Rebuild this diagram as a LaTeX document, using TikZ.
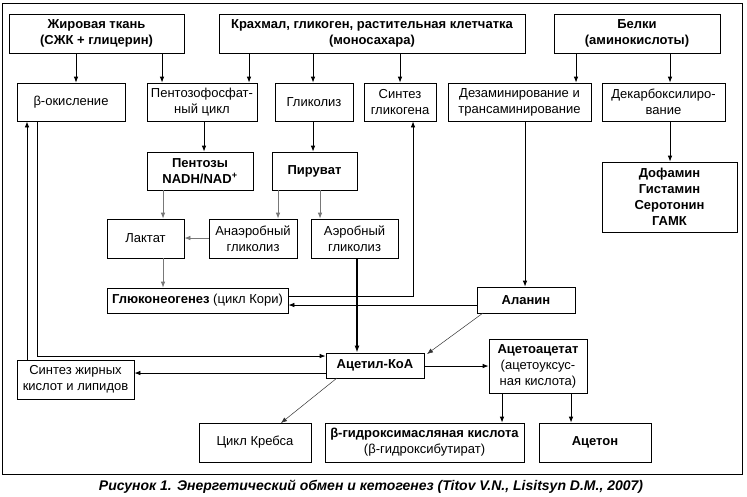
\documentclass[tikz,border=0pt]{standalone}
\usepackage{fontspec}
\setmainfont{Liberation Sans}
\usetikzlibrary{arrows.meta}
\definecolor{arrgray}{RGB}{120,120,120}
\begin{document}
\begin{tikzpicture}[x=1pt,y=-1pt,
  font=\fontsize{13}{16}\selectfont,
  bx/.style={draw, line width=0.8pt, align=center, inner sep=1pt, minimum width=#1},
  arr/.style={-{Latex[length=6pt,width=4.6pt]}, line width=0.8pt},
  garr/.style={-{Latex[length=6pt,width=4.6pt]}, line width=0.8pt, draw=arrgray, color=arrgray},
  tarr/.style={-{Latex[length=6pt,width=4.6pt]}, line width=0.5pt, draw=black!80},
  karr/.style={-{Latex[length=7pt,width=5pt]}, line width=1.8pt}
]
\useasboundingbox (0,0) rectangle (747,496);
\draw[line width=0.9pt] (2,3) rectangle (742,474);

% top row
\node[bx=175pt, minimum height=39pt] (fat) at (96.5,33.5) {\textbf{Жировая ткань}\\\textbf{(СЖК + глицерин)}};
\node[bx=306pt, minimum height=39pt] (starch) at (372,33.5) {\textbf{Крахмал, гликоген, растительная клетчатка}\\\textbf{(моносахара)}};
\node[bx=166pt, minimum height=39pt] (prot) at (637,33.5) {\textbf{Белки}\\\textbf{(аминокислоты)}};

% row 2
\node[bx=108pt, minimum height=38pt] (beta) at (71,102) {β-окисление};
\node[bx=110pt, minimum height=38pt] (ppc) at (202,102) {Пентозофосфат-\\ный цикл};
\node[bx=78pt, minimum height=38pt] (glyc) at (314,102) {Гликолиз};
\node[bx=72pt, minimum height=38pt] (glsyn) at (400,102) {Синтез\\гликогена};
\node[bx=143pt, minimum height=38pt] (deam) at (519.5,102) {Дезаминирование и\\трансаминирование};
\node[bx=123pt, minimum height=38pt] (decarb) at (663.5,102) {Декарбоксилиро-\\вание};

% row 3
\node[bx=106pt, minimum height=38pt] (pent) at (200,171) {\textbf{Пентозы}\\\textbf{NADH/NAD\textsuperscript{+}}};
\node[bx=85pt, minimum height=38pt] (pyr) at (314.5,171) {\textbf{Пируват}};
\node[bx=135pt, minimum height=70pt] (dopa) at (669.5,197) {\textbf{Дофамин}\\\textbf{Гистамин}\\\textbf{Серотонин}\\\textbf{ГАМК}};

% row 4
\node[bx=77pt, minimum height=39pt] (lact) at (145.5,238.5) {Лактат};
\node[bx=88pt, minimum height=39pt] (anaer) at (253,238.5) {Анаэробный\\гликолиз};
\node[bx=87pt, minimum height=39pt] (aer) at (354.5,238.5) {Аэробный\\гликолиз};

% row 5
\node[bx=181pt, minimum height=25pt] (gng) at (197.5,300.5) {\textbf{Глюконеогенез} (цикл Кори)};
\node[bx=98pt, minimum height=26pt] (ala) at (526,300) {\textbf{Аланин}};

% row 6
\node[bx=98pt, minimum height=25pt] (acoa) at (375,365.5) {\textbf{Ацетил-КоА}};
\node[bx=98pt, minimum height=54pt] (acac) at (538,366) {\textbf{Ацетоацетат}\\(ацетоуксус-\\ная кислота)};
\node[bx=117pt, minimum height=39pt] (fas) at (75.5,379.5) {Синтез жирных\\кислот и липидов};

% bottom row
\node[bx=112pt, minimum height=39pt] (krebs) at (255,442.5) {Цикл Кребса};
\node[bx=199pt, minimum height=39pt] (bhb) at (424.5,442.5) {\textbf{β-гидроксимасляная кислота}\\(β-гидроксибутират)};
\node[bx=112pt, minimum height=39pt] (aceton) at (595,442.5) {\textbf{Ацетон}};

% caption
\node (cap) at (371,487) {\fontsize{14}{16}\selectfont\bfseries\itshape Рисунок 1. Энергетический обмен и кетогенез (Titov V.N., Lisitsyn D.M., 2007)};

% helper x/y positions
\coordinate (x76) at (76,0);
\coordinate (x162) at (162,0);
\coordinate (x249) at (249,0);
\coordinate (x313) at (313,0);
\coordinate (x400) at (400,0);
\coordinate (x576) at (576,0);
\coordinate (x670) at (670,0);
\coordinate (x204) at (204,0);
\coordinate (x163) at (163,0);
\coordinate (x278) at (278,0);
\coordinate (x320) at (320,0);
\coordinate (x413) at (413,0);
\coordinate (x525) at (525,0);
\coordinate (x357) at (357,0);
\coordinate (x37) at (37,0);
\coordinate (x27) at (27,0);
\coordinate (x502) at (502,0);
\coordinate (x571) at (571,0);
\coordinate (y238) at (0,238);
\coordinate (y296) at (0,296);
\coordinate (y305) at (0,305);
\coordinate (y366) at (0,366);
\coordinate (y373) at (0,373);
\coordinate (y356) at (0,356);

% top arrows
\draw[arr] (fat.south -| x76) -- (beta.north -| x76);
\draw[arr] (fat.south -| x162) -- (ppc.north -| x162);
\draw[arr] (starch.south -| x249) -- (ppc.north -| x249);
\draw[arr] (starch.south -| x313) -- (glyc.north -| x313);
\draw[arr] (starch.south -| x400) -- (glsyn.north -| x400);
\draw[arr] (prot.south -| x576) -- (deam.north -| x576);
\draw[arr] (prot.south -| x670) -- (decarb.north -| x670);

\draw[arr] (ppc.south -| x204) -- (pent.north -| x204);
\draw[arr] (glyc.south -| x313) -- (pyr.north -| x313);
\draw[arr] (decarb.south -| x670) -- (dopa.north -| x670);

% gray arrows
\draw[garr] (pent.south -| x163) -- (lact.north -| x163);
\draw[garr] (pyr.south -| x278) -- (anaer.north -| x278);
\draw[garr] (pyr.south -| x320) -- (aer.north -| x320);
\draw[garr] (anaer.west |- y238) -- (lact.east |- y238);
\draw[garr] (lact.south -| x163) -- (gng.north -| x163);

% gluconeogenesis connections
\draw[arr] (gng.east |- y296) -| (glsyn.south -| x413);
\draw[arr] (ala.west |- y305) -- (gng.east |- y305);
\draw[arr] (deam.south -| x525) -- (ala.north -| x525);

% thick aerobic
\draw[karr] (aer.south -| x357) -- (acoa.north -| x357);

% thin diagonals
\coordinate (alab) at (483,313);
\coordinate (acoat) at (427,354);
\draw[tarr] (alab) -- (acoat);
\coordinate (acoab) at (337,378);
\coordinate (krebst) at (281,423);
\draw[tarr] (acoab) -- (krebst);

% acetyl-CoA
\draw[arr] (acoa.east |- y366) -- (acac.west |- y366);
\draw[arr] (acoa.west |- y373) -- (fas.east |- y373);
\draw[arr] (beta.south -| x37) |- (acoa.west |- y356);
\draw[arr] (fas.north -| x27) -- (beta.south -| x27);

% ketone bodies
\draw[arr] (acac.south -| x502) -- (bhb.north -| x502);
\draw[arr] (acac.south -| x571) -- (aceton.north -| x571);
\end{tikzpicture}
\end{document}
